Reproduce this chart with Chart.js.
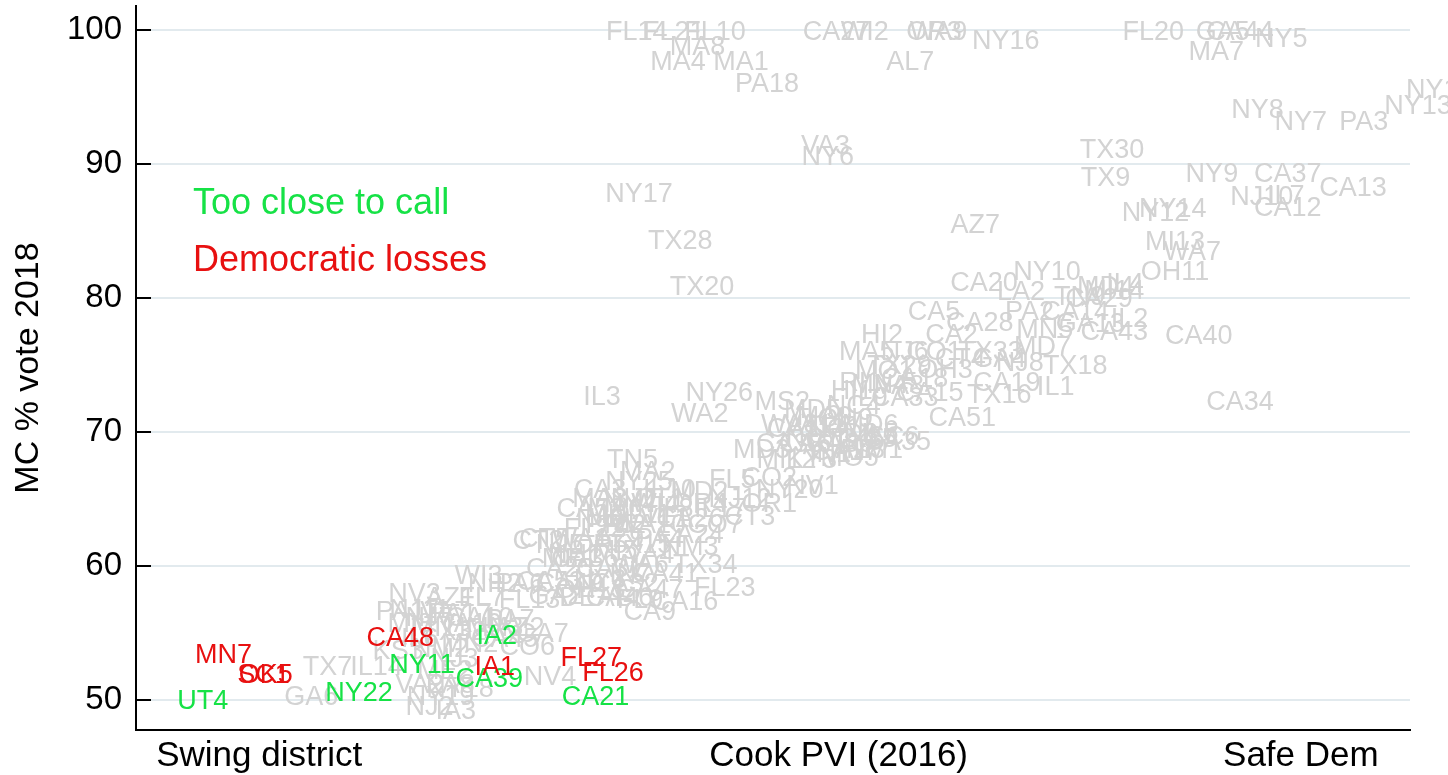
<!DOCTYPE html>
<html>
<head>
<meta charset="utf-8">
<script src="https://cdn.jsdelivr.net/npm/chart.js@4.4.1/dist/chart.umd.min.js"></script>
<style>
  html, body { margin: 0; padding: 0; background: #fff; }
  #wrap { width: 1448px; height: 775px; }
</style>
</head>
<body>
<div id="wrap"><canvas id="pviChart"></canvas></div>
<script>
const FONT = '"Liberation Sans", Arial, Helvetica, sans-serif';

// axis ticks
const yTicks = [50, 60, 70, 80, 90, 100];
const xTickValues = [-10.4, 16.3, 37.6];
const xTickLabels = ['Swing district', 'Cook PVI (2016)', 'Safe Dem'];

// races too close to call (green)
const closeNames = ['UT4', 'NY22', 'NY11', 'IA2', 'CA39', 'CA21'];
const closePvi   = [-13.0, -5.8, -2.9, 0.55, 0.2, 5.1];
const closeVote  = [49.9, 50.45, 52.6, 54.7, 51.5, 50.15];

// democratic losses (red)
const lossNames = ['MN7', 'SC1', 'OK5', 'CA48', 'IA1', 'FL27', 'FL26'];
const lossPvi   = [-12.05, -10.2, -10.1, -3.9, 0.45, 4.9, 5.9];
const lossVote  = [53.3, 51.8, 51.8, 54.6, 52.4, 53.1, 52.0];

// everyone else (grey)
const grayNames = [
  'FL14', 'FL21', 'FL10', 'MA8', 'MA4', 'MA1', 'PA18', 'CA27', 'WI2', 'WA9', 'OR3', 'NY16', 'AL7',
  'FL20', 'GA5', 'CA44', 'NY5', 'MA7', 'NY15', 'NY13', 'NY8', 'NY7', 'PA3', 'VA3', 'NY6', 'NY17',
  'TX28', 'TX20', 'TX30', 'TX9', 'NY9', 'CA37', 'NJ10', 'IL7', 'CA12', 'CA13', 'NY12', 'NY14',
  'MI13', 'WA7', 'OH11', 'CA40', 'CA34', 'AZ7', 'NY10', 'CA20', 'LA2', 'TN9', 'MD4', 'IL4', 'MI14',
  'PA2', 'CA14', 'CA5', 'CA28', 'MN5', 'CA43', 'GA13', 'CA29', 'IL2', 'HI2', 'CA2', 'MA5', 'NJ6',
  'CO1', 'TX33', 'MD7', 'TX29', 'OH3', 'NJ8', 'GA4', 'TX18', 'CA19', 'IL1', 'CA51', 'CA15', 'HI1',
  'NC4', 'RI1', 'MN4', 'VA8', 'MO1', 'CA18', 'IL9', 'CA33', 'CT4', 'TX16', 'IL3', 'NY26', 'WA2',
  'MS2', 'MD5', 'MD3', 'SC6', 'CA35', 'MI12', 'FL5', 'NV1', 'MA2', 'TN5', 'NY25', 'MD2', 'IL10',
  'CT3', 'OR1', 'NY20', 'CO2', 'CA38',
  'VA11', 'NC1', 'MD8', 'TX35', 'NC12', 'CA30', 'AZ3', 'IN1', 'MO5', 'NM1', 'CA6', 'MD6', 'MA9',
  'OH9', 'IL5', 'KY3', 'CA11', 'CA17', 'WA8',
  'MA3', 'MA6', 'NY4', 'IL11', 'CT1', 'IL8', 'NJ9', 'RI2', 'WA10', 'OR4', 'IL17', 'NJ12', 'CA26',
  'CO7', 'CA52', 'PA5', 'CA3', 'MI9', 'NJ1', 'FL22', 'VT1', 'WI4',
  'CT2', 'CT5', 'CA24', 'NM3', 'NJ5', 'WA1', 'OR5', 'AZ9', 'TX15', 'PA4', 'NH1', 'MI5', 'VA4',
  'CA36', 'WA6', 'CA31', 'CA41', 'CA25', 'CA49', 'NY3', 'CA32', 'CA47', 'TX34', 'FL23', 'CA16',
  'CA9', 'DEAL', 'FL13', 'FL7', 'WI3', 'NH2', 'PA6', 'CA53', 'GA2', 'CA46', 'FL9', 'ME1', 'IN7', 'OH13',
  'NJ11', 'NJ7', 'VA7', 'PA17', 'VA10', 'MI8', 'MI11', 'TX32', 'IL6', 'KS3', 'IL14', 'NM2', 'NJ3',
  'ME2', 'NY19', 'NJ2', 'IA3', 'NY18', 'VA2', 'PA8', 'MN2', 'TX7', 'GA6', 'CO6', 'CA7', 'NV4',
  'PA7', 'CA10', 'CA45', 'AZ2', 'MN3', 'PA1', 'NV3', 'AZ1'
];
const grayPvi = [
  7.0, 8.7, 10.6, 9.8, 8.9, 11.8, 13.0, 16.2, 17.5, 20.9, 20.7, 24.0, 19.6,
  30.8, 34.0, 34.8, 36.7, 33.7, 44.0, 43.0, 35.6, 37.6, 40.5, 15.7, 15.8, 7.1,
  9.0, 10.0, 28.9, 28.6, 33.5, 37.0, 35.8, 36.9, 37.0, 40.0, 30.9, 31.7,
  31.8, 32.6, 31.8, 32.9, 34.8, 22.6, 25.9, 23.0, 24.7, 27.4, 28.6, 29.5, 29.0,
  25.1, 27.2, 20.7, 22.8, 25.8, 29.0, 27.9, 28.3, 29.7, 18.3, 21.5, 17.6, 19.35,
  20.7, 23.3, 25.7, 19.1, 21.2, 24.65, 23.7, 27.2, 24.05, 26.3, 22.0, 20.5, 16.9,
  17.0, 17.3, 18.2, 19.1, 18.4, 19.8, 17.7, 19.35, 21.9, 23.7, 5.4, 10.8, 9.9,
  13.7, 15.1, 12.75, 18.8, 19.0, 13.9, 11.4, 15.1, 7.5, 6.8, 7.1, 9.9, 8.5,
  12.2, 13.1, 14.05, 13.1, 14.05,
  15.2, 16.1, 16.8, 17.5, 15.45, 16.35, 17.3, 15.9, 16.8, 17.95, 14.75, 17.75, 15.65,
  16.6, 18.2, 15.05, 14.5, 16.6, 14.05,
  5.3, 6.0, 6.7, 7.4, 8.05, 8.75, 5.3, 6.45, 7.6, 9.9, 10.85, 11.75, 9.45,
  10.6, 4.85, 5.75, 5.3, 5.65, 6.9, 5.05, 8.3, 7.85,
  2.45, 2.75, 9.45, 9.45, 3.45, 4.4, 5.3, 6.2, 7.15, 8.05, 4.15, 6.0, 7.6,
  4.6, 7.15, 5.75, 8.3, 3.45, 3.9, 5.3, 6.45, 7.6, 10.15, 11.05, 9.2,
  7.6, 5.05, 2.05, -0.15, -0.3, 0.45, 1.6, 3.0, 3.25, 6.2, 7.15, 3.9, 6.7, 4.85,
  -3.0, -2.55, -1.85, -1.15, -0.7, -3.45, -2.05, -1.4, -3.0, -4.0, -5.0, -2.05, -1.4,
  -1.85, -2.05, -2.55, -1.35, -1.15, -3.0, -1.6, -0.7, -7.25, -8.0, 1.95, 2.65, 3.0,
  1.15, -0.25, 0.9, 1.6, 0.45, -3.9, -3.25, -1.6
];
const grayVote = [
  99.8, 99.8, 99.8, 98.7, 97.6, 97.6, 95.9, 99.8, 99.8, 99.8, 99.8, 99.1, 97.6,
  99.8, 99.8, 99.8, 99.25, 98.3, 95.5, 94.25, 94.0, 93.1, 93.1, 91.3, 90.45, 87.7,
  84.2, 80.8, 91.0, 88.95, 89.2, 89.2, 87.5, 87.6, 86.7, 88.2, 86.3, 86.6,
  84.1, 83.4, 81.9, 77.1, 72.2, 85.4, 81.9, 81.1, 80.4, 80.0, 80.75, 81.0, 80.45,
  78.9, 78.9, 78.9, 78.1, 77.6, 77.4, 78.0, 79.85, 78.4, 77.2, 77.2, 75.9, 75.9,
  75.9, 75.9, 76.3, 74.85, 74.6, 75.1, 75.4, 74.85, 73.65, 73.3, 71.0, 72.9, 73.0,
  71.9, 73.6, 73.5, 73.4, 74.5, 73.9, 72.5, 72.5, 75.4, 72.75, 72.6, 72.9, 71.3,
  72.2, 71.6, 68.65, 69.55, 69.2, 67.9, 66.4, 65.9, 66.95, 67.9, 66.2, 65.45, 65.65,
  63.65, 64.55, 65.65, 66.55, 69.05,
  70.5, 70.15, 69.8, 69.4, 69.4, 69.05, 68.65, 68.3, 68.05, 68.65, 69.05, 70.5, 71.05,
  70.9, 69.8, 67.9, 70.15, 68.5, 70.5,
  64.95, 64.2, 64.55, 63.8, 64.95, 64.2, 63.45, 63.05, 63.05, 64.55, 64.2, 64.95, 63.45,
  63.05, 64.2, 63.05, 65.65, 63.8, 64.95, 62.7, 63.45, 64.55,
  61.8, 61.95, 62.3, 61.35, 61.55, 61.95, 61.55, 61.95, 61.55, 61.95, 60.8, 61.05, 60.8,
  60.45, 60.05, 59.7, 59.35, 59.7, 58.6, 58.95, 58.6, 58.2, 60.0, 58.35, 57.3,
  56.5, 57.6, 57.45, 57.6, 59.2, 58.6, 58.6, 58.8, 57.7, 57.6, 57.45, 60.45, 59.35, 58.2,
  56.7, 56.1, 56.55, 56.35, 55.6, 55.6, 55.35, 55.05, 54.5, 53.6, 52.4, 53.75, 53.0,
  52.1, 50.2, 49.4, 49.1, 50.75, 51.1, 51.1, 54.1, 52.45, 50.2, 53.95, 54.85, 51.7,
  55.95, 56.1, 54.5, 55.35, 55.35, 56.55, 57.85, 57.6
];

function toPoints(pvi, vote) {
    return pvi.map((x, i) => ({ x: x, y: vote[i] }));
}

const labelPlugin = {
    id: 'districtLabels',
    afterDatasetsDraw(chart) {
        const ctx = chart.ctx;
        ctx.save();
        ctx.font = '27px ' + FONT;
        ctx.textAlign = 'center';
        ctx.textBaseline = 'middle';
        chart.data.datasets.forEach((ds, i) => {
            ctx.fillStyle = ds.labelColor;
            chart.getDatasetMeta(i).data.forEach((pt, j) => {
                ctx.fillText(ds.names[j], pt.x, pt.y);
            });
        });
        ctx.restore();
    },
    afterDraw(chart) {
        const ctx = chart.ctx;
        const area = chart.chartArea;
        const yScale = chart.scales.y;
        ctx.save();
        // inward tick marks on the y axis
        ctx.strokeStyle = '#000';
        ctx.lineWidth = 2;
        yTicks.forEach((v) => {
            const py = Math.round(yScale.getPixelForValue(v));
            ctx.beginPath();
            ctx.moveTo(area.left, py);
            ctx.lineTo(area.left + 15, py);
            ctx.stroke();
        });
        // key
        ctx.font = '36px ' + FONT;
        ctx.textAlign = 'left';
        ctx.textBaseline = 'middle';
        ctx.fillStyle = chart.data.datasets[1].labelColor;
        ctx.fillText('Too close to call', area.left + 57, 204);
        ctx.fillStyle = chart.data.datasets[2].labelColor;
        ctx.fillText('Democratic losses', area.left + 57, 261);
        ctx.restore();
    }
};

new Chart(document.getElementById('pviChart'), {
    type: 'scatter',
    data: {
        datasets: [
            { names: grayNames, labelColor: '#d3d3d3', data: toPoints(grayPvi, grayVote), pointRadius: 0 },
            { names: closeNames, labelColor: 'rgb(22,226,70)', data: toPoints(closePvi, closeVote), pointRadius: 0 },
            { names: lossNames, labelColor: 'rgb(232,16,16)', data: toPoints(lossPvi, lossVote), pointRadius: 0 },
        ],
    },
    options: {
        responsive: true,
        maintainAspectRatio: false,
        animation: false,
        layout: { padding: { top: 6, right: 38, left: 0, bottom: 0 } },
        plugins: { legend: { display: false }, tooltip: { enabled: false } },
        scales: {
            x: {
                type: 'linear',
                min: -16.08,
                max: 42.63,
                afterBuildTicks: (s) => { s.ticks = xTickValues.map((v) => ({ value: v })); },
                afterFit: (s) => { s.height = 45; s.paddingLeft = 0; s.paddingRight = 0; },
                grid: { display: false, drawTicks: false },
                border: { color: '#000', width: 2 },
                ticks: {
                    autoSkip: false,
                    maxRotation: 0,
                    color: '#000',
                    padding: 5,
                    font: { size: 35, family: FONT },
                    callback: (v, i) => xTickLabels[i],
                },
            },
            y: {
                min: 47.76,
                max: 101.79,
                afterBuildTicks: (s) => { s.ticks = yTicks.map((v) => ({ value: v })); },
                afterFit: (s) => { s.width = 136; s.paddingTop = 0; s.paddingBottom = 0; },
                grid: { color: '#e2eaee', lineWidth: 2, drawTicks: false },
                border: { color: '#000', width: 2 },
                ticks: { color: '#000', padding: 14, font: { size: 33, family: FONT } },
                title: {
                    display: true,
                    text: 'MC % vote 2018',
                    color: '#000',
                    font: { size: 34, family: FONT },
                    padding: { top: 8, bottom: 0 },
                },
            },
        },
    },
    plugins: [labelPlugin],
});
</script>
</body>
</html>
